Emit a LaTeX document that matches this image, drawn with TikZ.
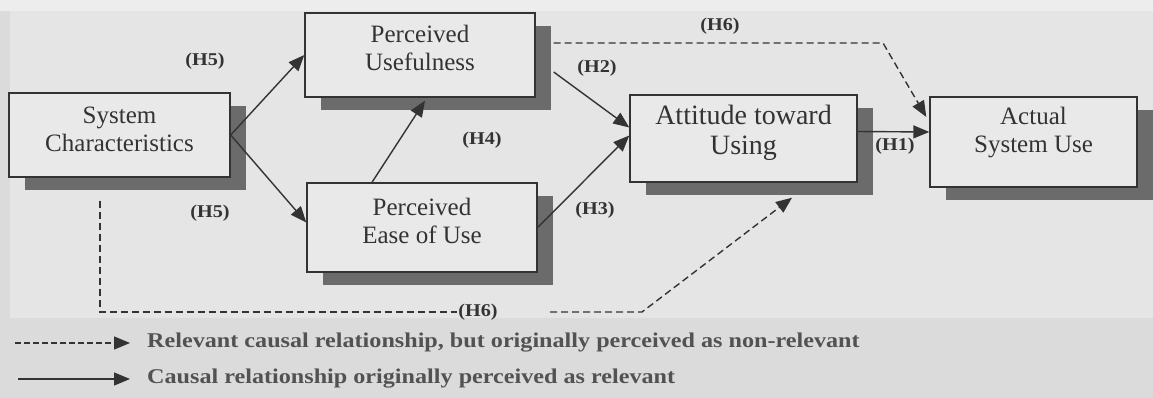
\documentclass[tikz,border=0pt]{standalone}
\usepackage{fontspec}
\setmainfont{Liberation Serif}
\usetikzlibrary{arrows.meta,calc,shadows}
\definecolor{bgA}{gray}{0.86}
\definecolor{bgB}{gray}{0.90}
\definecolor{bgC}{gray}{0.93}
\definecolor{boxfill}{gray}{0.915}
\definecolor{shadowc}{gray}{0.42}
\definecolor{ink}{gray}{0.2}
\begin{document}
\begin{tikzpicture}[x=1pt,y=-1pt,
  box/.style={draw=ink,line width=1.4pt,fill=boxfill,rectangle,inner sep=0pt,
    drop shadow={shadow xshift=16pt,shadow yshift=-13pt,fill=shadowc,opacity=1}},
  boxtext/.style={font=\fontsize{25}{28}\selectfont,align=center,text=ink,inner sep=0pt},
  hlab/.style={font=\bfseries\fontsize{18}{20}\selectfont\addfontfeature{FakeStretch=1.12},text=ink,inner sep=1pt},
  legtext/.style={font=\bfseries\fontsize{21}{23}\selectfont\addfontfeature{FakeStretch=1.15},text=ink!85!white,inner sep=0pt,anchor=west},
  conn/.style={draw=ink,line width=1.4pt},
  arr/.style={conn,-{Triangle[length=16pt,width=13pt]}},
  dsh/.style={dash pattern=on 7pt off 4pt}
]
\useasboundingbox (0,0) rectangle (1153,398);
\fill[bgA] (0,0) rectangle (1153,398);
\fill[bgC] (0,0) rectangle (1153,11);
\fill[bgB] (10,11) rectangle (1153,318);

% boxes
\node[box,minimum width=221pt,minimum height=84pt] (sys) at (119.5,135) {};
\node[box,minimum width=230pt,minimum height=84pt] (pu) at (420,55) {};
\node[box,minimum width=230pt,minimum height=89pt] (peou) at (422,227.5) {};
\node[box,minimum width=227pt,minimum height=87pt] (atu) at (743.5,138.5) {};
\node[box,minimum width=207pt,minimum height=90pt] (asu) at (1033.5,142) {};

\node[boxtext] (sysT) at (119.5,129) {System\\Characteristics};
\node[boxtext] (puT) at (420,48) {Perceived\\Usefulness};
\node[boxtext] (peouT) at (422,221) {Perceived\\Ease of Use};
\node[boxtext,font=\fontsize{28}{30}\selectfont] (atuT) at (743.5,133) {Attitude toward\\Using};
\node[boxtext] (asuT) at (1033.5,133) {Actual\\System Use};

% labels
\node[hlab] (h5a) at (205,61) {(H5)};
\node[hlab] (h5b) at (210,213) {(H5)};
\node[hlab] (h4) at (482,140) {(H4)};
\node[hlab] (h2) at (597,68) {(H2)};
\node[hlab] (h3) at (595,210) {(H3)};
\node[hlab] (h1) at (895,146) {(H1)};
\node[hlab] (h6a) at (720,26) {(H6)};
\node[hlab] (h6b) at (478,312) {(H6)};

% solid connectors
\draw[arr] (sys.east) -- (pu.west);
\draw[arr] (sys.east) -- ($(peou.west)+(0,-5)$);
\draw[arr] ($(peou.north)+(-50,0)$) -- ($(pu.south)+(5,3)$);
\draw[arr] ($(pu.east)+(18,17)$) -- ($(atu.west)+(0,-11)$);
\draw[arr] (peou.east) -- ($(atu.west)+(0,-3)$);
\draw[arr] ($(atu.east)+(0,-7)$) -- ($(asu.west)+(0,-10)$);

% dashed connectors
\coordinate (k1) at (883,43);
\draw[arr,dsh] ($(pu.east)+(18,-12)$) -- (k1) -- ($(asu.west)+(-3,-25)$);
\draw[conn,dsh] ($(sys.south)+(-19.5,23)$) |- (h6b.west);
\coordinate (k2) at (550,312);
\coordinate (k3) at (642,312);
\draw[arr,dsh] (k2) -- (k3) -- ($(atu.south)+(48.5,15)$);

% legend
\node[legtext] (leg1) at (147,343) {Relevant causal relationship, but originally perceived as non-relevant};
\node[legtext] (leg2) at (147,379) {Causal relationship originally perceived as relevant};
\coordinate (l1) at (15,343);
\coordinate (l2) at (18,379);
\draw[arr,dash pattern=on 6pt off 3pt] (l1) -- ($(leg1.west)+(-17,0)$);
\draw[arr] (l2) -- ($(leg2.west)+(-17,0)$);
\end{tikzpicture}
\end{document}
